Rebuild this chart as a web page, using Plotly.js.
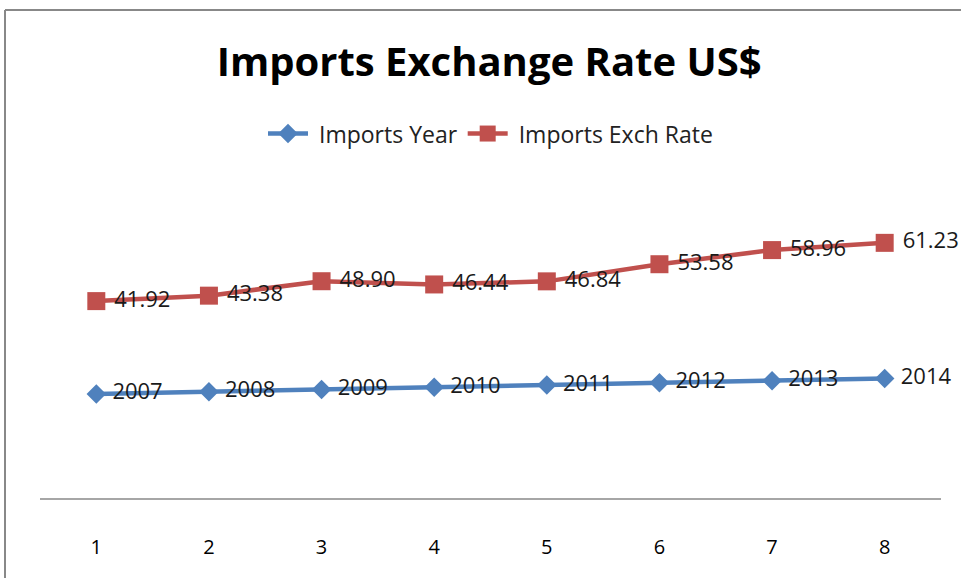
<!DOCTYPE html>
<html>
<head>
<meta charset="utf-8">
<script src="https://cdn.plot.ly/plotly-3.0.1.min.js"></script>
<style>html,body{margin:0;padding:0;background:#fff;}#chart{width:961px;height:578px;}</style>
</head>
<body>
<div id="chart"></div>
<script>
var categories = [1, 2, 3, 4, 5, 6, 7, 8];
var importsYear = [2007, 2008, 2009, 2010, 2011, 2012, 2013, 2014];
var importsExchRate = [41.92, 43.38, 48.90, 46.44, 46.84, 53.58, 58.96, 61.23];
var tickLabels = ['1', '2', '3', '4', '5', '6', '7', '8'];

var LABEL_FONT = 'Open Sans, sans-serif';
var PAD = '\u00a0';

var traces = [
  {
    x: categories, y: importsYear, name: '\u00a0Imports Year',
    type: 'scatter', mode: 'lines+markers+text', stackgroup: 'one', fill: 'none',
    line: {color: '#4F81BD', width: 4.5},
    marker: {symbol: 'diamond', size: 15, color: '#4F81BD'},
    text: importsYear.map(function (v) { return PAD + String(v); }), textposition: 'middle right',
    textfont: {family: LABEL_FONT, size: 22, color: '#1a1a1a'},
    cliponaxis: false, hoverinfo: 'skip'
  },
  {
    x: categories, y: importsExchRate, name: '\u00a0Imports Exch Rate',
    type: 'scatter', mode: 'lines+markers+text', stackgroup: 'one', fill: 'none',
    line: {color: '#C0504D', width: 4.5},
    marker: {symbol: 'square', size: 18, color: '#C0504D'},
    text: importsExchRate.map(function (v) { return PAD + v.toFixed(2); }), textposition: 'middle right',
    textfont: {family: LABEL_FONT, size: 22, color: '#1a1a1a'},
    cliponaxis: false, hoverinfo: 'skip'
  }
];

var layout = {
  width: 961, height: 578,
  margin: {l: 40, r: 20, t: 188, b: 80},
  paper_bgcolor: '#fff', plot_bgcolor: '#fff',
  showlegend: true,
  title: {
    text: '<b>Imports Exchange Rate US$</b>',
    font: {family: 'Open Sans, sans-serif', size: 40, color: '#000'},
    x: 0.509, xanchor: 'center', y: 0.893, yanchor: 'middle', yref: 'container'
  },
  legend: {
    orientation: 'h', x: 0.5, xanchor: 'center', y: 1.1755, yanchor: 'middle',
    font: {family: LABEL_FONT, size: 23, color: '#222'},
    itemwidth: 40, tracegroupgap: 0
  },
  xaxis: {
    range: [0.5, 8.5], tickvals: categories, ticktext: tickLabels,
    showgrid: false, zeroline: false, showline: true, linecolor: '#A6A6A6', linewidth: 1.5,
    ticks: '', ticklabelstandoff: 30,
    tickfont: {family: LABEL_FONT, size: 20, color: '#000'}, fixedrange: true
  },
  yaxis: {
    range: [1960, 2100], visible: false, showgrid: false, zeroline: false, fixedrange: true
  },
  shapes: [
    {type: 'line', xref: 'paper', yref: 'paper', x0: -35/901, x1: -35/901, y0: -0.3, y1: 488/310, line: {color: '#888', width: 2}},
    {type: 'line', xref: 'paper', yref: 'paper', x0: -35/901, x1: 1.1, y0: 488/310, y1: 488/310, line: {color: '#888', width: 2}}
  ]
};

Plotly.newPlot('chart', traces, layout, {displayModeBar: false, staticPlot: true});
</script>
</body>
</html>
